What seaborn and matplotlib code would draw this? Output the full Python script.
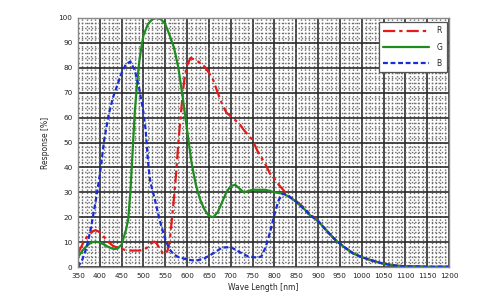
import numpy as np
import pandas as pd
import matplotlib
matplotlib.use("Agg")
import matplotlib.pyplot as plt
from matplotlib.ticker import MultipleLocator
import seaborn as sns

# ---- data ----
r_nm = [350, 360, 370, 380, 390, 400, 410, 420, 430, 440, 450, 460, 470, 480, 490, 500,
        510, 515, 520, 525, 530, 535, 540, 545, 550, 555, 560, 565, 570, 575, 580, 585,
        590, 595, 600, 608, 620, 630, 640, 650, 660, 670, 680, 690, 700, 710, 720, 730,
        740, 750, 760, 770, 780, 790, 800, 810, 820, 830, 840, 850, 860, 870, 880, 900,
        920, 940, 960, 980, 1000, 1020, 1050, 1080, 1100, 1150, 1200]
r_val = [5.5, 9, 12, 14, 14.8, 14, 12, 10, 8.5, 7.8, 7.2, 6.8, 6.6, 6.6, 6.6, 6.8,
         8, 9, 9.8, 10.2, 9.5, 8, 6.5, 5.5, 5.2, 6.5, 10, 19, 28, 38, 50, 60,
         70, 77, 81, 84, 83, 82, 80.5, 78, 75, 70, 65.5, 62, 60.5, 59, 57.5, 55,
         53, 51, 47, 44, 41, 37.5, 35.5, 33, 31, 29, 27.5, 26.5, 25, 23.5, 21.5, 18.5,
         14.5, 10.8, 8, 5.5, 4, 2.8, 1.3, 0.5, 0.3, 0.1, 0.1]

g_nm = [350, 360, 370, 380, 390, 400, 410, 420, 430, 440, 450, 455, 460, 465, 470, 475,
        480, 485, 490, 495, 500, 510, 520, 530, 540, 550, 560, 570, 580, 590, 600, 610,
        620, 630, 640, 650, 660, 670, 680, 690, 700, 710, 720, 730, 740, 750, 760, 770,
        780, 790, 800, 810, 820, 830, 840, 850, 860, 870, 880, 900, 920, 940, 960, 980,
        1000, 1020, 1050, 1080, 1100, 1150, 1200]
g_val = [4, 6.5, 8.5, 9.8, 10.2, 9.8, 9, 8, 7.3, 7.3, 9, 12, 15, 19, 30, 46,
         62, 73, 82, 88, 93, 97.5, 99.5, 100, 99.5, 97.5, 93, 88, 80, 68, 55, 42,
         33, 27, 23, 20.5, 20, 22, 26, 30, 32.5, 33, 31.5, 30, 30.5, 31, 31, 31,
         31, 30.5, 30, 29.7, 29.5, 28.5, 27.5, 26.2, 24.5, 23, 21, 18.5, 14.5, 10.8, 8, 5.5,
         4, 2.8, 1.3, 0.5, 0.3, 0.1, 0.1]

b_nm = [350, 360, 370, 380, 390, 400, 410, 420, 430, 440, 450, 460, 470, 480, 490, 500,
        505, 510, 515, 520, 525, 530, 540, 550, 560, 570, 580, 590, 600, 620, 640, 660,
        680, 700, 720, 740, 760, 770, 780, 790, 800, 810, 820, 830, 840, 850, 860, 870,
        880, 900, 920, 940, 960, 980, 1000, 1020, 1050, 1080, 1100, 1150, 1200]
b_val = [0, 3, 8, 16, 26, 37, 51, 61, 68, 73, 78, 81.5, 82.5, 79, 72, 62,
         55, 43, 35, 31, 28, 24, 17, 11, 7, 5, 4, 3.5, 3, 2.5, 3.5, 5.5,
         7.8, 8, 6, 4.2, 3.8, 4.2, 8, 14, 21, 27, 29.5, 28.8, 27.5, 26.2, 24.5, 23,
         21, 18.5, 14.5, 10.8, 8, 5.5, 4, 2.8, 1.3, 0.5, 0.3, 0.1, 0.1]

series_names = ["R", "G", "B"]
x_ticks = list(range(350, 1201, 50))
y_ticks = list(range(0, 101, 10))

# ---- figure ----
sns.set_style("white")
plt.rcParams["font.family"] = ["DejaVu Sans"]
fig = plt.figure(figsize=(5, 3), dpi=100)
ax = fig.add_axes([0.156, 0.11, 0.742, 0.83])

styles = {
    "R": dict(color="#e41a1a", dashes=(5.5, 1.8, 1.5, 1.8)),
    "G": dict(color="#1e8c1e", dashes=None),
    "B": dict(color="#1a2ed6", dashes=(2.2, 1.2)),
}
data = {"R": (r_nm, r_val), "G": (g_nm, g_val), "B": (b_nm, b_val)}
handles = []
for name in series_names:
    xs, ys = data[name]
    df = pd.DataFrame({"nm": xs, "val": ys})
    sns.lineplot(data=df, x="nm", y="val", ax=ax, color=styles[name]["color"],
                 linewidth=1.6, estimator=None, sort=False)
    ln = ax.lines[-1]
    if styles[name]["dashes"] is not None:
        ln.set_dashes(styles[name]["dashes"])
    handles.append(ln)

ax.set_xlim(350, 1200)
ax.set_ylim(0, 100)
ax.set_xticks(x_ticks)
ax.set_xticklabels([str(t) for t in x_ticks])
ax.set_yticks(y_ticks)
ax.set_yticklabels([str(t) for t in y_ticks])
ax.xaxis.set_minor_locator(MultipleLocator(10))
ax.yaxis.set_minor_locator(MultipleLocator(2))
ax.grid(which="minor", color="#6a6a6a", linewidth=1.0, linestyle=(0, (1, 1.4)))
ax.grid(which="major", color="#2a2a2a", linewidth=1.2)
ax.set_axisbelow(True)
ax.tick_params(which="both", length=0, labelsize=5.2, pad=4, colors="#222222")
for s in ax.spines.values():
    s.set_color("#888888")
    s.set_linewidth(1.0)

ax.set_xlabel("Wave Length [nm]", fontsize=5.5, labelpad=3)
ax.set_ylabel("Response [%]", fontsize=5.5, labelpad=6)

leg = ax.legend(handles=handles, labels=series_names, loc="upper right",
                bbox_to_anchor=(0.995, 0.985), fontsize=5.5, handlelength=6.0,
                labelspacing=0.95, borderpad=0.6, fancybox=False, framealpha=1,
                handletextpad=1.0, borderaxespad=0.0)
leg.get_frame().set_edgecolor("#555555")
leg.get_frame().set_linewidth(0.9)

fig.savefig("out.png", dpi=100, facecolor="white")
